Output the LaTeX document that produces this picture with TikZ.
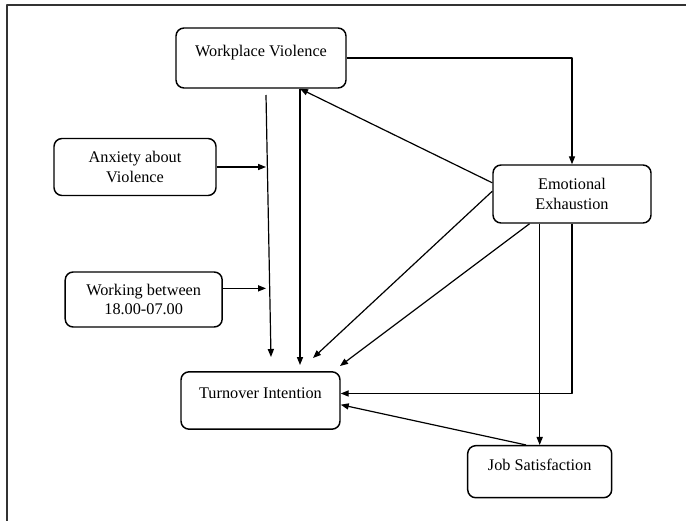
\documentclass[tikz,border=0pt]{standalone}
\usepackage{fontspec}
\setmainfont{Liberation Serif}
\usetikzlibrary{arrows.meta}

\begin{document}
\begin{tikzpicture}[x=0.75pt,y=-0.75pt,line join=round]
\tikzstyle{box} = [draw,rounded corners=6pt,line width=1.1pt,align=center,inner sep=2pt,font=\fontsize{12.2}{14.6}\selectfont]
\tikzstyle{oneline} = [text depth=11pt]
\tikzstyle{link} = [line width=0.9pt,-{Triangle[length=6pt,width=4.6pt]}]
\useasboundingbox (0,0) rectangle (686,521);
\draw[line width=1.4pt,black!80] (7,521)--(7,5)--(686,5);
\node[box,oneline,minimum width=127.5pt,minimum height=45pt] (wv) at (261,58) {Workplace Violence};
\node[box,minimum width=118.5pt,minimum height=43.5pt] (ee) at (572,194) {Emotional\\Exhaustion};
\node[box,minimum width=121.5pt,minimum height=42.75pt] (anx) at (135,167) {Anxiety about\\Violence};
\node[box,minimum width=117.75pt,minimum height=41.25pt] (wrk) at (143.7,299.5) {Working between\\18.00-07.00};
\node[box,oneline,minimum width=119.25pt,minimum height=43pt] (to) at (260.5,400.5) {Turnover Intention};
\node[box,oneline,minimum width=108pt,minimum height=39pt] (js) at (539.7,471.7) {Job Satisfaction};
\coordinate (m1) at (266,95);
\coordinate (m2) at (271,357);
\coordinate (t3) at (300,365);
\coordinate (p1) at (313,358);
\coordinate (p2) at (340,366);
\draw[link] (wv.east) -| (ee.north);
\draw[link] (m1) -- (m2);
\draw[link] (wv.south -| t3) -- (t3);
\draw[link] (ee.172) -- (wv.south -| t3);
\draw[link] (anx.east) -- (anx.east -| m1);
\draw[link] (wrk.8) -- (wrk.8 -| m1);
\draw[link] (ee.178) -- (p1);
\draw[link] (ee.215) -- (p2);
\draw[link] (js.north |- ee.south) -- (js.north);
\draw[link] (ee.south) |- (to.5);
\draw[link] (js.117) -- (to.-3);
\end{tikzpicture}
\end{document}
